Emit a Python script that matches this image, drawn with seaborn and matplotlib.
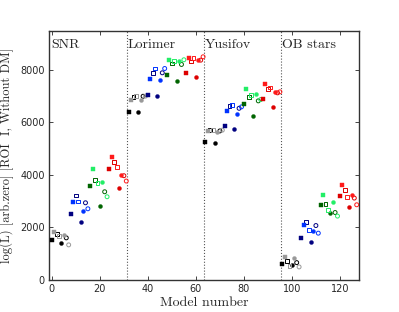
import matplotlib

matplotlib.use("Agg")
import matplotlib.pyplot as plt
import numpy as np
import pandas as pd
import seaborn as sns

# log(L) per model; four catalogues of 32 models each
snr = [1514, 1832, 1744, 1667, 1388, 1705, 1591, 1323,
       2508, 2956, 3208, 2979, 2191, 2612, 2929, 2700,
       3579, 4229, 3809, 3694, 2815, 3732, 3350, 3159,
       4203, 4677, 4486, 4306, 3476, 3988, 3962, 3759]
lorimer = [6397, 6868, 6971, 6994, 6382, 6857, 6994, 7000,
           7048, 7671, 7889, 8053, 7021, 7606, 7889, 8053,
           7797, 8371, 8245, 8333, 7568, 8333, 8207, 8386,
           7874, 8462, 8321, 8462, 7747, 8371, 8371, 8500]
yusifov = [5250, 5682, 5709, 5720, 5197, 5644, 5671, 5700,
           5862, 6420, 6627, 6650, 5759, 6306, 6535, 6589,
           6704, 7277, 6971, 7032, 6229, 7097, 6818, 6868,
           6906, 7480, 7277, 7327, 6573, 7174, 7124, 7162]
ob_stars = [608, 876, 700, 532, 558, 826, 646, 482,
            1602, 2076, 2191, 1908, 1438, 1858, 2061, 1770,
            2826, 3208, 2879, 2661, 2558, 2941, 2558, 2421,
            3197, 3606, 3400, 3147, 2776, 3208, 3109, 2853]

catalogues = ["SNR", "Lorimer", "Yusifov", "OB stars"]
family_colors = [("#000000", "#999999"), ("#000080", "#0033ff"),
                 ("#006400", "#22ee66"), ("#dd0000", "#ff1a1a")]
# within a family of 8: shape, fill, shade
block_shape = ["s", "s", "s", "s", "o", "o", "o", "o"]
block_fill = [True, True, False, False, True, True, False, False]
block_shade = [0, 1, 0, 1, 0, 1, 0, 1]

values = snr + lorimer + yusifov + ob_stars
models = np.arange(len(values))
df = pd.DataFrame({
    "model": models,
    "logL": values,
    "family": (models % 32) // 8,
    "shape": [block_shape[m % 8] for m in models],
    "filled": [block_fill[m % 8] for m in models],
    "shade": [block_shade[m % 8] for m in models],
})

sns.set_theme(style="ticks")
plt.rcParams["font.family"] = ["DejaVu Sans"]
serif = "cmr10"

fig, ax = plt.subplots(figsize=(3.99, 3.12), dpi=100)
fig.subplots_adjust(left=0.124, right=0.900, bottom=0.104, top=0.902)

for (fam, shape, filled, shade), sub in df.groupby(["family", "shape", "filled", "shade"]):
    c = family_colors[fam][shade]
    if filled:
        kw = dict(color=c, edgecolor=c, linewidth=0.3)
    else:
        kw = dict(facecolor="none", edgecolor=c, linewidth=0.7)
    sns.scatterplot(data=sub, x="model", y="logL", marker=shape, s=8,
                    legend=False, ax=ax, zorder=3, **kw)

for b in [31.5, 63.5, 95.5]:
    ax.axvline(b, color="#555555", linestyle=":", linewidth=0.8)

for i, name in enumerate(catalogues):
    ax.text(i * 32 - 0.3, 8950, name, fontsize=10, family=serif, va="center", ha="left")

ax.set_xlim(-1, 128)
ax.set_ylim(0, 9500)
ax.set_xticks([0, 20, 40, 60, 80, 100, 120])
ax.set_yticks([0, 2000, 4000, 6000, 8000])
ax.tick_params(direction="in", top=True, right=True, labelsize=7, length=3, width=0.6)
for sp in ax.spines.values():
    sp.set_linewidth(1.0)
    sp.set_color("#333333")
ax.set_xlabel("Model number", fontsize=10, family=serif, labelpad=2)
ax.set_ylabel("log(L) [arb.zero] [ROI  I, Without DM]", fontsize=9, family=serif, labelpad=4)

fig.savefig("out.png", dpi=100)
